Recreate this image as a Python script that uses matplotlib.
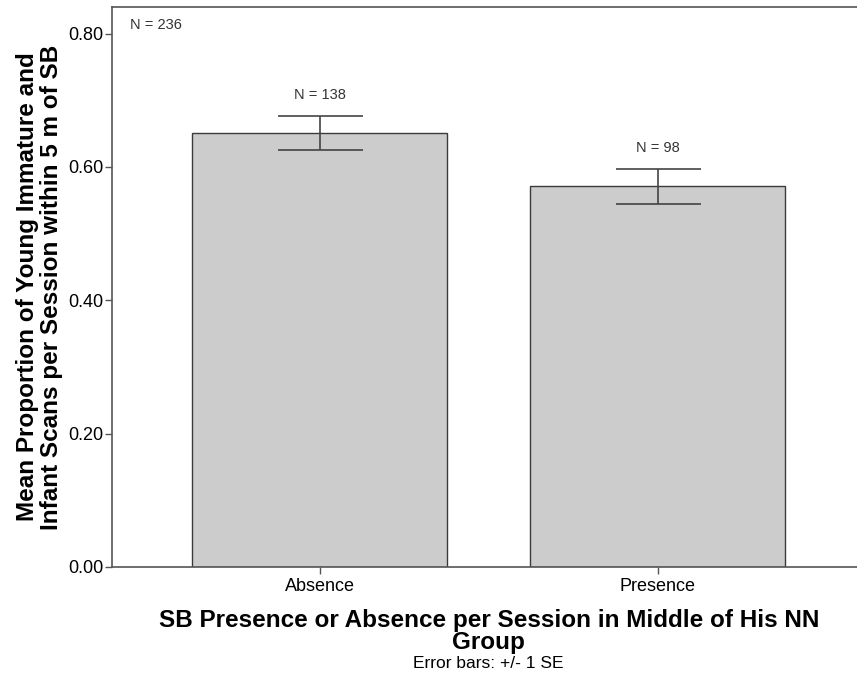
import matplotlib
matplotlib.use("Agg")
import matplotlib.pyplot as plt
import numpy as np

# ── Data ──────────────────────────────────────────────────────────────
categories = ["Absence", "Presence"]
means = [0.651, 0.571]
se = [0.026, 0.026]
group_n = [138, 98]
total_n = 236

# ── Style ─────────────────────────────────────────────────────────────
plt.rcParams["font.family"] = ["Liberation Sans", "DejaVu Sans"]
C_BAR = "#cccccc"
C_EDGE = "#3a3a3a"
C_AXIS = "#555555"
C_TEXT = "#333333"

fig = plt.figure(figsize=(8.57, 6.8), dpi=100)
ax = fig.add_axes([0.1303, 0.1662, 0.8802, 0.8235])

x = np.arange(len(categories))
ax.bar(x, means, 0.754, color=C_BAR, edgecolor=C_EDGE, linewidth=1.0, zorder=2)
ax.errorbar(x, means, yerr=se, fmt="none", ecolor="#444444", elinewidth=1.2,
            capsize=30.6, capthick=1.2, zorder=3)

for xi, m, s, n in zip(x, means, se, group_n):
    ax.annotate(f"N = {n}", (xi, m + s), xytext=(0, 10), textcoords="offset points",
                ha="center", va="bottom", fontsize=10.5, color=C_TEXT)

ax.text(0.024, 0.968, f"N = {total_n}", transform=ax.transAxes, ha="left",
        va="center", fontsize=10.5, color=C_TEXT)

ax.set_xlim(-0.616, 1.616)
ax.set_ylim(0, 0.84)
ax.set_yticks([0, 0.2, 0.4, 0.6, 0.8])
ax.set_yticklabels([f"{v:.2f}" for v in [0, 0.2, 0.4, 0.6, 0.8]])
ax.set_xticks(x)
ax.set_xticklabels(categories)
ax.tick_params(axis="both", labelsize=13, colors=C_AXIS, labelcolor="black",
               length=5, width=1.0)
ax.tick_params(axis="y", pad=1)
ax.tick_params(axis="x", pad=3)

for side in ["left", "bottom", "top", "right"]:
    ax.spines[side].set_color(C_AXIS)
    ax.spines[side].set_linewidth(1.2)

ax.set_ylabel("Mean Proportion of Young Immature and\n"
              "Infant Scans per Session within 5 m of SB",
              fontsize=17.5, fontweight="bold", labelpad=4, linespacing=1.05)
ax.set_xlabel("SB Presence or Absence per Session in Middle of His NN\nGroup",
              fontsize=17.5, fontweight="bold", labelpad=10, linespacing=0.92)

fig.text(0.5695, 0.024, "Error bars: +/- 1 SE", ha="center", va="center",
         fontsize=12.5, color="black")

fig.savefig("out.png", dpi=100, facecolor="white")
